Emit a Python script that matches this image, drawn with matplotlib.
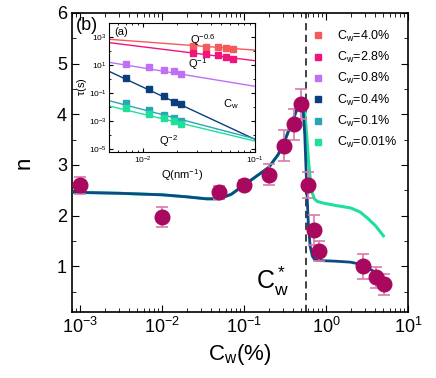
import matplotlib
matplotlib.use('Agg')
import matplotlib.pyplot as plt
from matplotlib.lines import Line2D
import numpy as np

plt.rcParams['font.family'] = ['Liberation Sans', 'DejaVu Sans']
plt.rcParams['mathtext.fontset'] = 'custom'
plt.rcParams['mathtext.rm'] = 'Liberation Sans'
plt.rcParams['mathtext.it'] = 'Liberation Sans'

# main panel: exponent n vs Cw
cw = [0.001, 0.01, 0.05, 0.1, 0.2, 0.31, 0.41, 0.5, 0.6, 0.72, 0.82, 2.85, 4.1, 5.1]
n_vals = [2.6, 1.97, 2.46, 2.61, 2.81, 3.38, 3.8, 4.2, 2.6, 1.71, 1.3, 1.0, 0.78, 0.64]
n_err = [0.17, 0.2, 0.13, 0.1, 0.2, 0.3, 0.3, 0.3, 0.25, 0.3, 0.2, 0.25, 0.2, 0.2]

# model curves
fit_x = [0.0008, 0.003, 0.01, 0.02, 0.035, 0.05, 0.07, 0.1, 0.14, 0.2, 0.26, 0.31, 0.37, 0.42,
         0.46, 0.49, 0.52, 0.55, 0.58, 0.61, 0.64, 0.68, 0.72, 0.78, 0.9, 1.3, 2.0, 2.6, 3.2, 4.0, 5.0]
fit_blue = [2.46, 2.44, 2.41, 2.37, 2.33, 2.33, 2.42, 2.6, 2.77, 2.95, 3.2, 3.45, 3.78, 4.0,
            4.18, 4.27, 4.2, 3.6, 2.6, 1.8, 1.4, 1.2, 1.14, 1.12, 1.11, 1.1, 1.08, 1.04, 0.97, 0.88, 0.75]
fit_green = [2.46, 2.44, 2.41, 2.37, 2.33, 2.33, 2.42, 2.6, 2.77, 2.95, 3.2, 3.45, 3.78, 4.0,
             4.18, 4.27, 4.25, 4.05, 3.6, 3.1, 2.75, 2.45, 2.33, 2.28, 2.25, 2.2, 2.15, 2.07, 1.95, 1.8, 1.6]
cw_star = 0.575

# inset: relaxation time vs Q
inset_labels = ['C$_w$=4.0%', 'C$_w$=2.8%', 'C$_w$=0.8%', 'C$_w$=0.4%', 'C$_w$=0.1%', 'C$_w$=0.01%']
inset_colors = ['#f45a5a', '#f0147c', '#c070f5', '#0a3e7e', '#2aa5b5', '#1ee09a']
q_high = [0.0277, 0.0368, 0.0467, 0.0553, 0.0638]
q_low = [0.00702, 0.0114, 0.0155, 0.0187, 0.0218]
inset_q = [q_high, q_high, q_low, q_low, q_low, q_low]
inset_tau = [
    [10**2.35, 10**2.30, 10**2.26, 10**2.19, 10**2.16],
    [10**1.88, 10**1.77, 10**1.70, 10**1.53, 10**1.42],
    [10**1.07, 10**0.83, 10**0.67, 10**0.60, 10**0.32],
    [10**0.09, 10**-0.68, 10**-1.20, 10**-1.62, 10**-1.78],
    [10**-1.68, 10**-2.20, 10**-2.57, 10**-2.80, 10**-2.97],
    [10**-2.08, 10**-2.48, 10**-2.80, 10**-3.01, 10**-3.20],
]
line_q = [0.005, 0.1]
line_tau = [
    [10**2.82, 10**2.05],
    [10**2.58, 10**1.30],
    [10**1.18, 10**-0.52],
    [10**0.53, 10**-4.29],
    [10**-1.55, 10**-4.25],
    [10**-1.92, 10**-4.41],
]

fig = plt.figure(figsize=(4.36, 3.78), dpi=100)
ax = fig.add_axes([0.165, 0.175, 0.771, 0.791])

ax.plot(fit_x, fit_green, color='#1ee09a', lw=2.2, zorder=2)
ax.plot(fit_x, fit_blue, color='#0b4a85', lw=2.0, zorder=3)
ax.axvline(cw_star, color='#333333', ls=(0, (4, 2.5)), lw=1.3, zorder=1)
ax.errorbar(cw, n_vals, yerr=n_err, fmt='o', ms=10.5, color='#a8085e', ecolor='#d97aa8',
            elinewidth=1.2, capsize=4, capthick=1.2, zorder=4)

ax.set_xscale('log')
ax.set_xlim(8e-4, 10)
ax.set_ylim(0.1, 6)
ax.set_yticks([1, 2, 3, 4, 5, 6])
ax.set_yticks([0.5, 1.5, 2.5, 3.5, 4.5, 5.5], minor=True)
ax.tick_params(which='both', direction='in', top=True, right=True, labelsize=13)
ax.tick_params(which='major', length=5)
ax.tick_params(which='minor', length=3)
for s in ax.spines.values():
    s.set_linewidth(1.2)
ax.set_xlabel('C$_w$(%)', fontsize=16)
ax.set_ylabel('n', fontsize=16, labelpad=16)
ax.text(0.012, 0.985, '(b)', transform=ax.transAxes, fontsize=13, va='top')
ax.text(0.355, 0.55, 'C$_w^*$', transform=ax.transData, fontsize=18, ha='right')

handles = [Line2D([], [], ls='none', marker='s', ms=5, color=c) for c in inset_colors]
ax.legend(handles, inset_labels, loc='upper right', bbox_to_anchor=(1.0, 0.985), frameon=False,
          fontsize=9, handletextpad=1.0, labelspacing=0.5, handlelength=1.0)

ins = fig.add_axes([0.251, 0.599, 0.334, 0.341])
for q, t, lq, lt, c in zip(inset_q, inset_tau, [line_q] * 6, line_tau, inset_colors):
    ins.plot(lq, lt, color=c, lw=1.0)
    ins.plot(q, t, 's', color=c, ms=5)
ins.set_xscale('log')
ins.set_yscale('log')
ins.set_xlim(5e-3, 0.1)
ins.set_ylim(7e-6, 1e4)
ins.set_yticks([1e-5, 1e-3, 1e-1, 1e1, 1e3])
ins.set_yticks([1e-4, 1e-2, 1, 1e2], minor=True)
ins.tick_params(which='both', direction='in', top=True, right=True, labelsize=6, pad=2)
ins.tick_params(which='major', length=3)
ins.tick_params(which='minor', length=1.5)
ins.yaxis.set_minor_formatter(matplotlib.ticker.NullFormatter())
ins.set_xlabel('Q(nm$^{-1}$)', fontsize=8, labelpad=1)
ins.set_ylabel(r'$\tau$(s)', fontsize=8, labelpad=0)
ins.text(0.03, 0.97, '(a)', transform=ins.transAxes, fontsize=8, va='top')
ins.text(0.55, 0.93, 'Q$^{-0.6}$', transform=ins.transAxes, fontsize=8, va='top')
ins.text(0.54, 0.74, 'Q$^{-1}$', transform=ins.transAxes, fontsize=8, va='top')
ins.text(0.78, 0.42, 'C$_w$', transform=ins.transAxes, fontsize=8, va='top')
ins.text(0.34, 0.14, 'Q$^{-2}$', transform=ins.transAxes, fontsize=8, va='top')

fig.savefig('out.png', dpi=100)
